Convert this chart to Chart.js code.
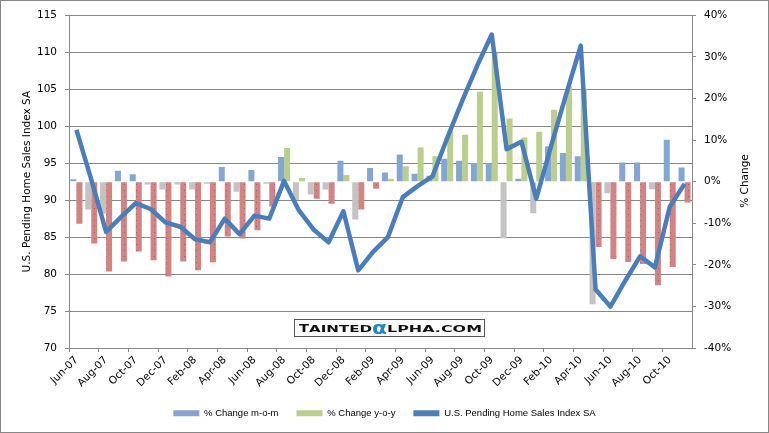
<!doctype html>
<html lang="en">
  <head>
    <script src="https://cdn.jsdelivr.net/npm/chart.js"></script>
    <style>
      body { margin: 0; background: #fff; }
      #wrap { width: 767px; height: 431px; border: 1px solid #878787; background: #fff; }
      canvas { display: block; }
    </style>
  </head>
  <body>
    <div id="wrap"><canvas id="myChart" width="767" height="431"></canvas></div>
    <script>
      const months = ['Jun-07', 'Jul-07', 'Aug-07', 'Sep-07', 'Oct-07', 'Nov-07', 'Dec-07',
        'Jan-08', 'Feb-08', 'Mar-08', 'Apr-08', 'May-08', 'Jun-08', 'Jul-08', 'Aug-08', 'Sep-08', 'Oct-08', 'Nov-08', 'Dec-08',
        'Jan-09', 'Feb-09', 'Mar-09', 'Apr-09', 'May-09', 'Jun-09', 'Jul-09', 'Aug-09', 'Sep-09', 'Oct-09', 'Nov-09', 'Dec-09',
        'Jan-10', 'Feb-10', 'Mar-10', 'Apr-10', 'May-10', 'Jun-10', 'Jul-10', 'Aug-10', 'Sep-10', 'Oct-10', 'Nov-10'];

      // % change month over month
      const changeMoM = [0.6, -6.7, -7.7, 2.6, 1.8, -0.7, -1.9,
        -0.7, -1.9, -0.5, 3.5, -2.4, 2.8, -0.5, 5.9, -4.4, -3.1, -1.9, 5.0,
        -9.1, 3.3, 2.2, 6.5, 1.9, 1.4, 5.5, 5.0, 4.5, 4.5, -13.6, 0.7,
        -7.6, 8.5, 6.9, 6.1, -29.5, -2.8, 4.6, 4.6, -1.8, 10.1, 3.4];

      // % change year over year
      const changeYoY = [-10.1, -14.9, -21.6, -19.2, -16.8, -18.9, -22.8,
        -19.2, -21.3, -19.4, -13.2, -13.7, -11.7, -6.0, 8.1, 0.9, -4.1, -5.3, 1.6,
        -6.7, -1.7, 0.7, 3.7, 8.2, 6.1, 12.2, 11.3, 21.6, 31.0, 15.2, 10.6,
        12.0, 17.3, 23.0, 22.4, -15.7, -18.6, -19.3, -19.8, -24.9, -20.5, -5.0];

      // U.S. Pending Home Sales Index SA
      const salesIndex = [99.5, 92.8, 85.7, 87.7, 89.6, 88.8, 87.0,
        86.4, 84.7, 84.3, 87.5, 85.4, 87.9, 87.5, 92.6, 88.6, 86.0, 84.3, 88.5,
        80.5, 83.0, 85.0, 90.4, 91.9, 93.2, 98.4, 103.4, 108.1, 112.4, 96.9, 97.9,
        90.2, 97.3, 104.2, 110.9, 77.9, 75.6, 79.1, 82.4, 80.9, 89.1, 92.2];

      const blue = '#84A6D2';
      const grey = '#C3C3C3';
      const green = '#B9CF8B';
      const lineBlue = '#4A7EBB';
      const axisGrey = '#878787';

      // red bars in the original have a faint dotted fill
      var pc = document.createElement('canvas');
      pc.width = 6; pc.height = 6;
      var pctx = pc.getContext('2d');
      pctx.fillStyle = '#D38482';
      pctx.fillRect(0, 0, 6, 6);
      pctx.fillStyle = '#A2605E';
      pctx.fillRect(3, 3, 1, 1);
      const redFill = pctx.createPattern(pc, 'repeat');

      Chart.defaults.font.family = 'DejaVu Sans';
      Chart.defaults.font.size = 10.5;
      Chart.defaults.color = '#000';

      const extras = {
        id: 'extras',
        afterDatasetsDraw(chart) {
          const ctx = chart.ctx;
          ctx.save();
          // watermark box
          ctx.fillStyle = '#fff';
          ctx.fillRect(293, 318, 190, 17);
          ctx.strokeStyle = '#555';
          ctx.lineWidth = 1;
          ctx.strokeRect(293.5, 318.5, 190, 17);
          ctx.textBaseline = 'alphabetic';
          ctx.textAlign = 'left';
          function stretched(txt, font, color, x, y, w) {
            ctx.font = font;
            ctx.fillStyle = color;
            var m = ctx.measureText(txt).width;
            ctx.save();
            ctx.translate(x, y);
            ctx.scale(w / m, 1);
            ctx.fillText(txt, 0, 0);
            ctx.restore();
          }
          stretched('T', 'bold 10px DejaVu Sans', '#111', 298, 331, 10);
          stretched('AINTED', 'bold 9px DejaVu Sans', '#111', 308, 331, 63);
          stretched('\u03B1', 'bold 18px DejaVu Sans', '#1E88C8', 371, 333, 15);
          stretched('LPHA.COM', 'bold 9px DejaVu Sans', '#111', 386, 331, 95);
          ctx.restore();
        },
        afterDraw(chart) {
          const ctx = chart.ctx;
          ctx.save();
          ctx.font = '10.5px DejaVu Sans';
          ctx.fillStyle = '#000';
          ctx.textAlign = 'center';
          ctx.textBaseline = 'middle';
          ctx.translate(744, 180);
          ctx.rotate(-Math.PI / 2);
          ctx.fillText('% Change', 0, 0);
          ctx.restore();
        }
      };

      var canvas = document.getElementById('myChart');
      var setup = {
        type: 'bar',
        data: {
          labels: months,
          datasets: [
            {
              label: '% Change m-o-m',
              data: changeMoM,
              yAxisID: 'y2',
              backgroundColor: function (c) { return c.raw < 0 ? grey : blue; },
              barPercentage: 1.0,
              categoryPercentage: 0.81
            },
            {
              label: '% Change y-o-y',
              data: changeYoY,
              yAxisID: 'y2',
              backgroundColor: function (c) { return c.raw < 0 ? redFill : green; },
              barPercentage: 1.0,
              categoryPercentage: 0.81
            },
            {
              type: 'line',
              label: 'U.S. Pending Home Sales Index SA',
              data: salesIndex,
              yAxisID: 'y',
              order: -1,
              borderColor: lineBlue,
              backgroundColor: lineBlue,
              borderWidth: 4.5,
              pointRadius: 0,
              tension: 0,
              borderJoinStyle: 'round'
            }
          ]
        },
        options: {
          responsive: false,
          animation: false,
          layout: {
            padding: { top: 13, bottom: 4, left: 0, right: 0 }
          },
          plugins: {
            tooltip: { enabled: false },
            legend: {
              position: 'bottom',
              labels: {
                boxWidth: 26,
                boxHeight: 6,
                padding: 18,
                font: { family: 'Liberation Sans', size: 9.5 },
                generateLabels: function () {
                  return [
                    { text: '% Change m-o-m', fillStyle: blue, strokeStyle: blue, lineWidth: 0, datasetIndex: 0 },
                    { text: '% Change y-o-y', fillStyle: green, strokeStyle: green, lineWidth: 0, datasetIndex: 1 },
                    { text: 'U.S. Pending Home Sales Index SA', fillStyle: lineBlue, strokeStyle: lineBlue, lineWidth: 0, datasetIndex: 2 }
                  ];
                }
              }
            }
          },
          scales: {
            x: {
              offset: true,
              grid: {
                offset: true,
                drawOnChartArea: false,
                tickLength: 4,
                color: function (c) { return c.index % 2 === 0 ? axisGrey : 'rgba(0,0,0,0)'; }
              },
              border: { color: axisGrey },
              ticks: {
                autoSkip: false,
                minRotation: 45,
                maxRotation: 45,
                padding: 2,
                callback: function (v, i) { return i % 2 === 0 ? months[i] : ''; }
              },
              afterFit: function (s) { s.height = 42.5; }
            },
            y: {
              position: 'left',
              min: 70,
              max: 115,
              grid: { color: axisGrey, tickLength: 4 },
              border: { color: axisGrey },
              ticks: { stepSize: 5, padding: 8 },
              title: {
                display: true,
                text: 'U.S. Pending Home Sales Index SA',
                font: { size: 10.5 },
                padding: { top: 20, bottom: 0 }
              },
              afterFit: function (s) { s.width = 68; }
            },
            y2: {
              position: 'right',
              min: -40,
              max: 40,
              grid: { drawOnChartArea: false, color: axisGrey, tickLength: 4 },
              border: { color: axisGrey },
              ticks: {
                stepSize: 10,
                padding: 8,
                callback: function (v) { return v + '%'; }
              },
              afterFit: function (s) { s.width = 76; }
            }
          }
        },
        plugins: [extras]
      };
      var chart = new Chart(canvas, setup);
    </script>
  </body>
</html>
